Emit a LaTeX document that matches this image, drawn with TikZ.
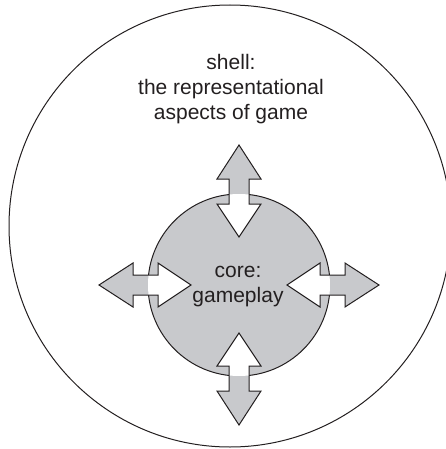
\documentclass[tikz,border=0pt]{standalone}
\usepackage{fontspec}
\setmainfont{Liberation Sans}
\definecolor{coregray}{RGB}{200,201,204}
\definecolor{ink}{RGB}{35,31,32}
\tikzset{
  label text/.style={text=ink, align=center, inner sep=0pt,
    font=\fontsize{21}{25}\selectfont},
  outline/.style={draw=ink, line width=1pt, line join=miter},
}
\begin{document}
\begin{tikzpicture}[x=1pt,y=-1pt]
\useasboundingbox (0,0) rectangle (446,449);
\def\shellcircle{(230,226) circle (221)}
\def\corecircle{(239,285) circle (91)}
\def\dualarrow{(48,0) -- (81,-22) -- (81,-10) -- (106,-10) -- (106,-22) -- (140,0)
  -- (106,22) -- (106,10) -- (81,10) -- (81,22) -- cycle}

\draw[ink, line width=1pt] \shellcircle;
\fill[coregray] \corecircle;
\draw[ink, line width=1pt] \corecircle;

\foreach \ang in {0,90,180,270} {
  \begin{scope}[shift={(239,285)}, rotate=\ang]
    \fill[coregray] \dualarrow;
    \begin{scope}
      \clip[rotate=-\ang] (0,0) circle (91);
      \fill[white] \dualarrow;
    \end{scope}
    \draw[outline] \dualarrow;
  \end{scope}
}

% anchor=base sits on the last line
\node[label text, anchor=base] (shell) at (231,120)
  {shell:\\the representational\\aspects of game};
\node[label text, anchor=base] (core) at (238,302) {core:\\gameplay};
\end{tikzpicture}
\end{document}
